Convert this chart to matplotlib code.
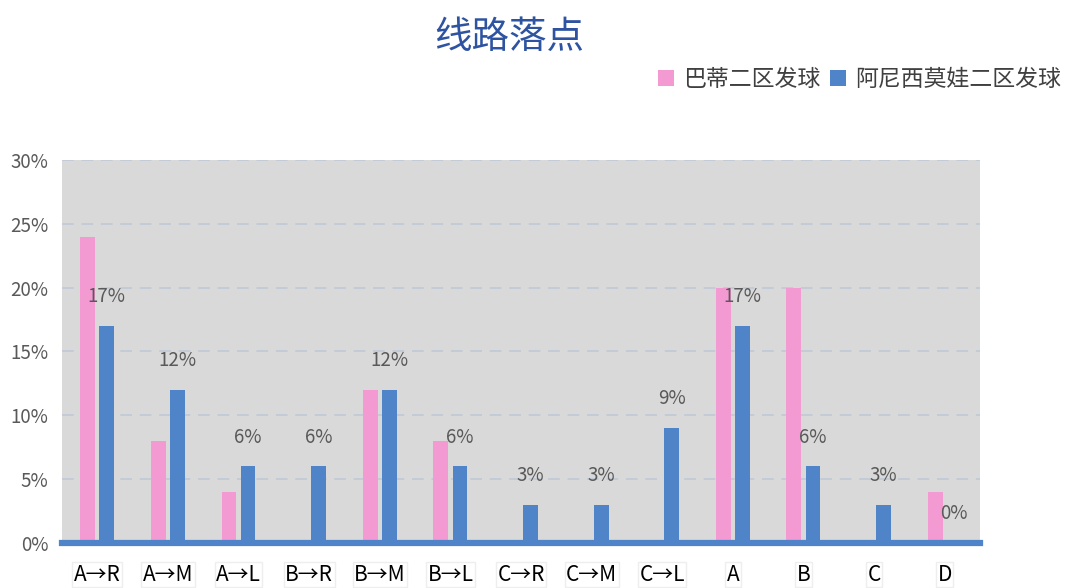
import matplotlib
matplotlib.use("Agg")
import matplotlib.pyplot as plt
import numpy as np
from matplotlib.ticker import PercentFormatter

plt.rcParams['font.family'] = ['Noto Sans CJK SC', 'DejaVu Sans']

categories = ['A→R', 'A→M', 'A→L', 'B→R', 'B→M', 'B→L', 'C→R', 'C→M', 'C→L',
              'A', 'B', 'C', 'D']
badi = [24, 8, 4, 0, 12, 8, 0, 0, 0, 20, 20, 0, 4]
anisimova = [17, 12, 6, 6, 12, 6, 3, 3, 9, 17, 6, 3, 0]
series_names = ['巴蒂二区发球', '阿尼西莫娃二区发球']
yticks = [0, 5, 10, 15, 20, 25, 30]

pink = '#f49ad2'
blue = '#4f84c9'

fig = plt.figure(figsize=(10.73, 5.88), dpi=100)
ax = fig.add_axes([0.0578, 0.0765, 0.8555, 0.6515])
ax.set_facecolor('#d9d9d9')

x = np.arange(len(categories))
w = 0.21
off = 0.135
ax.bar(x - off, badi, width=w, color=pink, label=series_names[0], zorder=3)
ax.bar(x + off, anisimova, width=w, color=blue, label=series_names[1], zorder=3)

# data labels only for the blue series
for xi, v in zip(x, anisimova):
    ax.text(xi + off, v + 2.3, f'{v}%', ha='center', va='center',
            fontsize=13.5, color='#595959', zorder=4)

ax.set_xlim(-0.5, len(categories) - 0.5)
ax.set_ylim(0, 30)
ax.set_yticks(yticks)
ax.yaxis.set_major_formatter(PercentFormatter(decimals=0))
ax.yaxis.grid(True, linestyle=(0, (6, 4)), color='#c2cbd6', linewidth=1.4, zorder=1)
ax.set_axisbelow(True)

for s in ['top', 'right', 'left']:
    ax.spines[s].set_visible(False)
ax.spines['bottom'].set_color(blue)
ax.spines['bottom'].set_linewidth(4.5)
ax.spines['bottom'].set_zorder(5)

ax.tick_params(axis='y', length=0, labelsize=13.5, labelcolor='#595959', pad=10)
ax.tick_params(axis='x', length=0, pad=15)
ax.set_xticks(x)
ax.set_xticklabels(categories, fontsize=15, color='black')
for lbl in ax.get_xticklabels():
    lbl.set_bbox(dict(facecolor='white', edgecolor='#eeeeee', pad=1.0))

fig.text(0.475, 0.937, '线路落点', ha='center', va='center', fontsize=27,
         color='#2e54a1')

fig.legend(loc='upper right', bbox_to_anchor=(1.008, 0.92), ncol=2, frameon=False,
           fontsize=16.5, handlelength=0.7, handleheight=0.7, handletextpad=0.4,
           columnspacing=0.4, labelcolor='#404040')

fig.savefig('out.png', dpi=100)
